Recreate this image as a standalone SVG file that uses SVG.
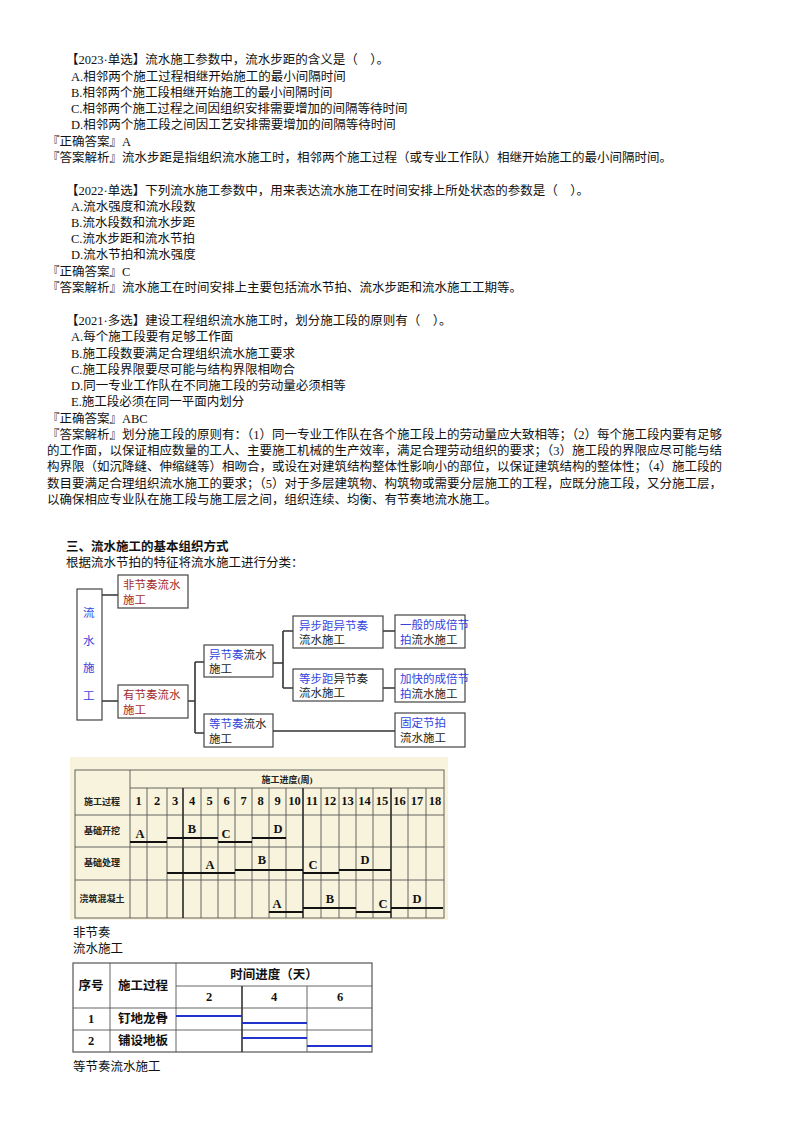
<svg xmlns="http://www.w3.org/2000/svg" width="800" height="1132" viewBox="0 0 800 1132">
<style>
text{font-family:"Liberation Serif","Noto Sans CJK SC",serif;font-size:12.5px;fill:#111}
.s{font-family:"Noto Sans CJK SC",sans-serif;font-size:11.5px;fill:#222}
.r{fill:#a52a2a}.b{fill:#3344dd}
.bx{fill:#fff;stroke:#444;stroke-width:1.2}
.c{stroke:#333;stroke-width:1.6;fill:none}
.g{stroke:#555;stroke-width:0.9;fill:none}
.bar{stroke:#111;stroke-width:2}
.bl{stroke:#2233cc;stroke-width:2}
.t{font-family:"Liberation Serif","Noto Sans CJK SC",serif;font-size:9px;font-weight:bold;fill:#222}
.tb{font-family:"Noto Sans CJK SC",sans-serif;font-size:10px;font-weight:bold;fill:#222}
</style>
<rect width="800" height="1132" fill="#fff"/>
<g id="text">
<text x="66" y="64">【2023·单选】流水施工参数中，流水步距的含义是（　）。</text>
<text x="71" y="81">A.相邻两个施工过程相继开始施工的最小间隔时间</text>
<text x="71" y="97">B.相邻两个施工段相继开始施工的最小间隔时间</text>
<text x="71" y="113">C.相邻两个施工过程之间因组织安排需要增加的间隔等待时间</text>
<text x="71" y="129">D.相邻两个施工段之间因工艺安排需要增加的间隔等待时间</text>
<text x="47" y="146">『正确答案』A</text>
<text x="47" y="162">『答案解析』流水步距是指组织流水施工时，相邻两个施工过程（或专业工作队）相继开始施工的最小间隔时间。</text>
<text x="66" y="195">【2022·单选】下列流水施工参数中，用来表达流水施工在时间安排上所处状态的参数是（　）。</text>
<text x="71" y="211">A.流水强度和流水段数</text>
<text x="71" y="227">B.流水段数和流水步距</text>
<text x="71" y="243">C.流水步距和流水节拍</text>
<text x="71" y="259">D.流水节拍和流水强度</text>
<text x="47" y="276">『正确答案』C</text>
<text x="47" y="292">『答案解析』流水施工在时间安排上主要包括流水节拍、流水步距和流水施工工期等。</text>
<text x="66" y="325">【2021·多选】建设工程组织流水施工时，划分施工段的原则有（　）。</text>
<text x="71" y="341">A.每个施工段要有足够工作面</text>
<text x="71" y="358">B.施工段数要满足合理组织流水施工要求</text>
<text x="71" y="374">C.施工段界限要尽可能与结构界限相吻合</text>
<text x="71" y="390">D.同一专业工作队在不同施工段的劳动量必须相等</text>
<text x="71" y="406">E.施工段必须在同一平面内划分</text>
<text x="47" y="423">『正确答案』ABC</text>
<text x="47" y="439">『答案解析』划分施工段的原则有：（1）同一专业工作队在各个施工段上的劳动量应大致相等；（2）每个施工段内要有足够</text>
<text x="47" y="455">的工作面，以保证相应数量的工人、主要施工机械的生产效率，满足合理劳动组织的要求；（3）施工段的界限应尽可能与结</text>
<text x="47" y="471">构界限（如沉降缝、伸缩缝等）相吻合，或设在对建筑结构整体性影响小的部位，以保证建筑结构的整体性；（4）施工段的</text>
<text x="47" y="488">数目要满足合理组织流水施工的要求；（5）对于多层建筑物、构筑物或需要分层施工的工程，应既分施工段，又分施工层，</text>
<text x="47" y="504">以确保相应专业队在施工段与施工层之间，组织连续、均衡、有节奏地流水施工。</text>
<text x="66" y="551" font-weight="bold">三、流水施工的基本组织方式</text>
<text x="66" y="567">根据流水节拍的特征将流水施工进行分类：</text>
</g>
<g id="connectors">
<path class="c" d="M102 595H118M102 701H118M188 701H195M195 662V733M195 662H204M195 733H204M273 663H283M283 631V688M283 631H293M283 688H293M383 631H395M383 688H395M273 731H395"/>
</g>
<g id="n-root"><rect class="bx" x="77" y="589" width="25" height="131"/>
<text class="s b" x="83" y="617">流</text><text class="s b" x="83" y="645">水</text><text class="s b" x="83" y="672">施</text><text class="s b" x="83" y="700">工</text></g>
<g id="n-fei"><rect class="bx" x="118" y="575" width="70" height="33"/><text class="s r" x="123" y="589">非节奏流水</text><text class="s r" x="123" y="604">施工</text></g>
<g id="n-you"><rect class="bx" x="118" y="685" width="70" height="33"/><text class="s r" x="123" y="699">有节奏流水</text><text class="s r" x="123" y="714">施工</text></g>
<g id="n-yi"><rect class="bx" x="204" y="645" width="69" height="32"/><text class="s" x="209" y="659"><tspan class="b">异节奏</tspan>流水</text><text class="s" x="209" y="673">施工</text></g>
<g id="n-deng"><rect class="bx" x="204" y="714" width="69" height="33"/><text class="s" x="209" y="728"><tspan class="b">等节奏</tspan>流水</text><text class="s" x="209" y="743">施工</text></g>
<g id="n-ybj"><rect class="bx" x="293" y="616" width="90" height="32"/><text class="s b" x="299" y="630">异步距异节奏</text><text class="s" x="299" y="644">流水施工</text></g>
<g id="n-dbj"><rect class="bx" x="293" y="669" width="90" height="32"/><text class="s" x="299" y="683"><tspan class="b">等步距</tspan>异节奏</text><text class="s" x="299" y="697">流水施工</text></g>
<g id="n-yb"><rect class="bx" x="395" y="615" width="70" height="33"/><text class="s b" x="400" y="629">一般的成倍节</text><text class="s b" x="400" y="644">拍<tspan fill="#222">流水施工</tspan></text></g>
<g id="n-jk"><rect class="bx" x="395" y="669" width="70" height="33"/><text class="s b" x="400" y="683">加快的成倍节</text><text class="s b" x="400" y="698">拍<tspan fill="#222">流水施工</tspan></text></g>
<g id="n-gd"><rect class="bx" x="395" y="713" width="70" height="34"/><text class="s b" x="400" y="727">固定节拍</text><text class="s" x="400" y="742">流水施工</text></g>

<g id="chart1">
<rect x="70" y="757" width="378" height="163" fill="#f7f3dc"/>
<rect class="g" x="75" y="770" width="369" height="148" stroke-width="1.3"/>
<path class="g" d="M130 770V918M130 788H444M75 815H444M75 847H444M75 880H444"/>
<path class="g" d="M147 788V918M167 788V918M183 788V918M201 788V918M218 788V918M235 788V918M252 788V918M269 788V918M286 788V918M303 788V918M321 788V918M339 788V918M356 788V918M373 788V918M391 788V918M408 788V918M426 788V918"/>
<path stroke="#333" stroke-width="1.5" d="M183 788V918M391 788V918M303 788V918"/>
<text class="t" x="287" y="783" text-anchor="middle">施工进度(周)</text>
<text class="t" x="102" y="805" text-anchor="middle">施工过程</text>
<text class="t" x="102" y="834" text-anchor="middle">基础开挖</text>
<text class="t" x="102" y="866" text-anchor="middle">基础处理</text>
<text class="t" x="102" y="902" text-anchor="middle">浇筑混凝土</text>
<g class="t" text-anchor="middle">
<text x="138.5" y="805">1</text><text x="157" y="805">2</text><text x="175" y="805">3</text><text x="192" y="805">4</text><text x="209.5" y="805">5</text><text x="226.5" y="805">6</text><text x="243.5" y="805">7</text><text x="260.5" y="805">8</text><text x="277.5" y="805">9</text><text x="294.5" y="805">10</text><text x="312" y="805">11</text><text x="330" y="805">12</text><text x="347.5" y="805">13</text><text x="364.5" y="805">14</text><text x="382" y="805">15</text><text x="399.5" y="805">16</text><text x="417" y="805">17</text><text x="435" y="805">18</text>
<text x="140" y="838">A</text><text x="192" y="833">B</text><text x="226" y="838">C</text><text x="278" y="833">D</text>
<text x="210" y="869">A</text><text x="262" y="864">B</text><text x="313" y="869">C</text><text x="365" y="864">D</text>
<text x="277" y="908">A</text><text x="330" y="903">B</text><text x="383" y="908">C</text><text x="417" y="903">D</text>
</g>
<path class="bar" d="M130 842H167M167 838H218M218 842H252M252 838H286M167 873H235M235 870H303M303 873H339M339 870H391M269 912H303M303 908H356M356 912H391M391 908H443"/>
</g>
<text x="73" y="937">非节奏</text>
<text x="73" y="953">流水施工</text>

<g id="chart2">
<rect x="73" y="963" width="299" height="89" fill="#fff" stroke="#555" stroke-width="1.2"/>
<path class="g" d="M110 963V1052M176 963V1052M176 986H372M73 1008H372M73 1030H372M307 986V1052"/>
<path stroke="#333" stroke-width="1.6" d="M242 986V1052"/>
<g class="tb" text-anchor="middle">
<text x="274" y="979">时间进度（天）</text>
<text x="91" y="990">序号</text><text x="143" y="990">施工过程</text>
<text x="209" y="1001">2</text><text x="274" y="1001">4</text><text x="340" y="1001">6</text>
<text x="91" y="1023">1</text><text x="143" y="1023">钉地龙骨</text>
<text x="91" y="1045">2</text><text x="143" y="1045">铺设地板</text>
</g>
<path class="bl" d="M176 1016H242M242 1023H307M242 1038H307M307 1046H372"/>
</g>
<text x="73" y="1071">等节奏流水施工</text>
</svg>
